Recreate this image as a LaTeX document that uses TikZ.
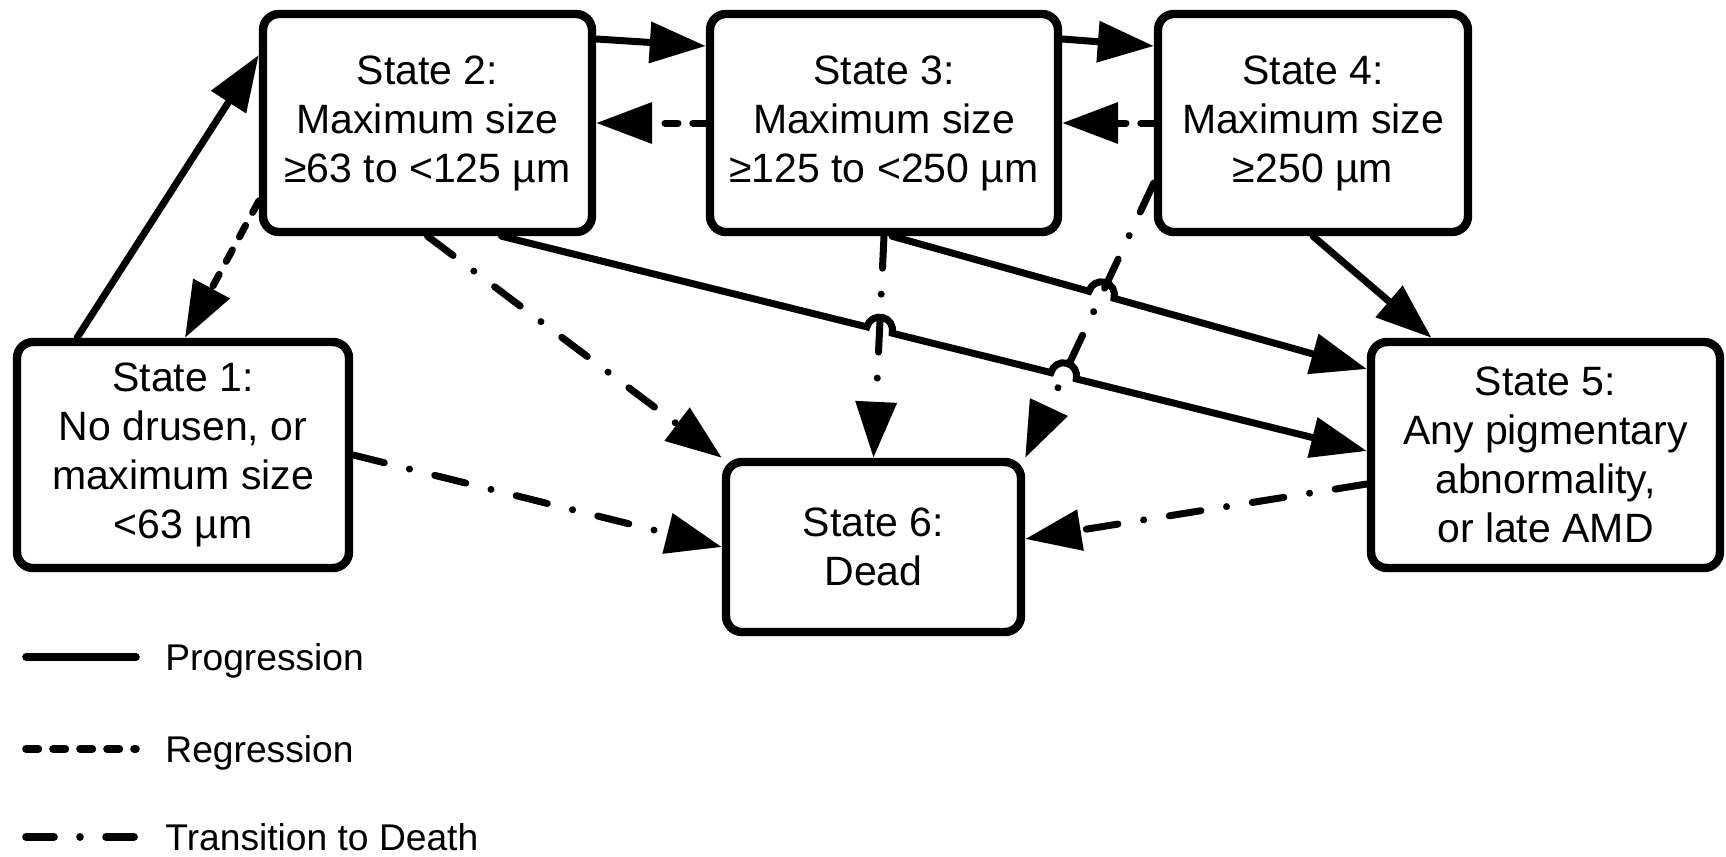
\documentclass[tikz,border=0pt]{standalone}
\usepackage{fontspec}
\setmainfont{Liberation Sans}
\usetikzlibrary{arrows.meta,calc,intersections}
\begin{document}
\begin{tikzpicture}[x=0.5pt,y=-0.5pt,
  box/.style={draw, line width=4.2pt, rounded corners=8pt, align=center,
    font=\fontsize{20.5}{24.5}\selectfont, inner sep=0pt, fill=white},
  conn/.style={line width=3.5pt, line cap=round, -{Triangle[length=28pt,width=20pt]}},
  prog/.style={conn},
  regr/.style={conn, dash pattern=on 6.5pt off 7.4pt},
  death/.style={conn, dash pattern=on 16pt off 13pt on 0.01pt off 13pt},
  legline/.style={line width=3.8pt, line cap=round},
  legtext/.style={anchor=base west, font=\fontsize{18.6}{22}\selectfont, inner sep=0pt},
]
\useasboundingbox (0,0) rectangle (1726,857);

% states
\node[box, minimum width=166pt, minimum height=113pt] (s1) at (183,455)
  {State 1:\\No drusen, or\\maximum size\\<63 µm};
\node[box, minimum width=164.5pt, minimum height=109pt] (s2) at (427.5,123)
  {State 2:\\Maximum size\\≥63 to <125 µm};
\node[box, minimum width=174pt, minimum height=109pt] (s3) at (884,123)
  {State 3:\\Maximum size\\≥125 to <250 µm};
\node[box, minimum width=155pt, minimum height=109pt] (s4) at (1313,123)
  {State 4:\\Maximum size\\≥250 µm};
\node[box, minimum width=174.5pt, minimum height=113pt] (s5) at (1545.5,455)
  {State 5:\\Any pigmentary\\abnormality,\\or late AMD};
\node[box, minimum width=147.5pt, minimum height=85pt] (s6) at (873.5,547)
  {State 6:\\Dead};

% progression (simple)
\draw[prog] ([xshift=-53pt]s1.north) -- ([yshift=34pt]s2.west);
\draw[prog] ([yshift=42pt]s2.east) -- ([yshift=38.5pt]s3.west);
\draw[prog] ([yshift=42pt]s3.east) -- ([yshift=38.5pt]s4.west);
\draw[prog] (s4.south) -- ([xshift=-57pt]s5.north);

% regression
\draw[regr] ([yshift=-39pt]s2.west) -- ([xshift=1pt]s1.north);
\draw[regr] (s3.west) -- (s2.east);
\draw[regr] (s4.west) -- (s3.east);

% death
\draw[death] (s2.south) -- (s6.north west);
\draw[death] (s1.east) -- (s6.west);
\draw[death, name path=p12] (s3.south) -- (s6.north);
\draw[death, name path=p13] ([yshift=-30pt]s4.west) -- (s6.north east);
\draw[death] ([yshift=-14.5pt]s5.west) -- ([yshift=4pt]s6.east);

% progression with hops
\coordinate (a9) at ([xshift=37pt]s2.south);
\coordinate (b9) at ([yshift=2pt]s5.west);
\coordinate (a8) at ([xshift=4pt]s3.south);
\coordinate (b8) at ([yshift=43pt]s5.west);
\path[name path=p9] (a9) -- (b9);
\path[name path=p8] (a8) -- (b8);
\path[name intersections={of=p9 and p12, by=x1}];
\path[name intersections={of=p9 and p13, by=x2}];
\path[name intersections={of=p8 and p13, by=x3}];

\draw[prog] let \p1=($(b9)-(a9)$), \n1={atan2(\y1,\x1)} in
  (a9) -- ($(x1)!6.5pt!(a9)$) arc[start angle=\n1+180, end angle=\n1, radius=6.5pt]
  -- ($(x2)!6.5pt!(a9)$) arc[start angle=\n1+180, end angle=\n1, radius=6.5pt]
  -- (b9);
\draw[prog] let \p1=($(b8)-(a8)$), \n1={atan2(\y1,\x1)} in
  (a8) -- ($(x3)!6.5pt!(a8)$) arc[start angle=\n1+180, end angle=\n1, radius=6.5pt]
  -- (b8);

% legend
\coordinate (l1a) at (26,657); \coordinate (l1b) at (136,657);
\coordinate (l2a) at (26,749); \coordinate (l2b) at (136,749);
\coordinate (l3a) at (26,837); \coordinate (l3b) at (136,837);
\draw[legline] (l1a) -- (l1b);
\draw[legline, dash pattern=on 6.2pt off 7.3pt] (l2a) -- (l2b);
\draw[legline, dash pattern=on 14pt off 13pt on 0.01pt off 13pt] (l3a) -- (l3b);
\node[legtext] (t1) at (165,670) {Progression};
\node[legtext] (t2) at (165,762) {Regression};
\node[legtext] (t3) at (165,850) {Transition to Death};
\end{tikzpicture}
\end{document}
